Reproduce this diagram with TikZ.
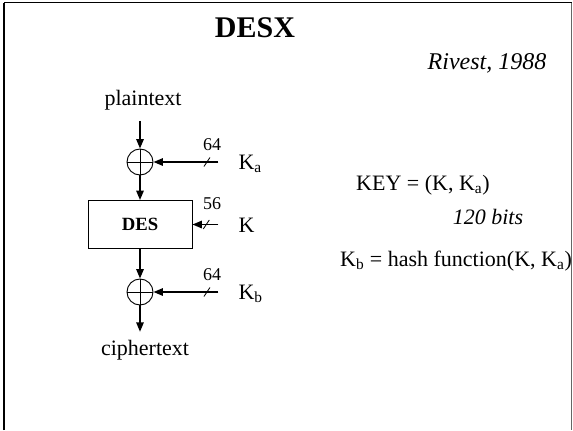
\documentclass[tikz,border=0pt]{standalone}
\usepackage{fontspec}
\setmainfont{Liberation Serif}
\usepackage{tikz}
\usetikzlibrary{arrows.meta,positioning,calc}

\begin{document}
\begin{tikzpicture}[x=0.75pt,y=-0.75pt,
  txt/.style={inner sep=1pt, font=\fontsize{16.5}{18}\selectfont},
  bits/.style={inner sep=1pt, font=\fontsize{13.5}{15}\selectfont},
  xorop/.style={draw, circle, line width=0.7pt, minimum size=19.5pt, inner sep=0pt},
  cipherbox/.style={draw, line width=0.7pt, minimum width=78pt, minimum height=36pt, font=\fontsize{14}{16}\selectfont\bfseries},
  arr/.style={-{Triangle[length=7pt,width=5.5pt]}, line width=1.2pt},
  tick/.style={line width=0.6pt}
]
  \useasboundingbox (0,0) rectangle (573,430);
  % slide frame
  \draw[line width=1.5pt] (4,430) -- (4,2.5);
  \draw[line width=0.8pt] (4,2.5) -- (571.5,2.5);
  \draw[line width=0.8pt, black!60] (571.5,2.5) -- (571.5,430);

  \node[font=\fontsize{22.5}{24}\selectfont\bfseries] (title) at (255,28) {DESX};
  \node[font=\fontsize{18}{20}\selectfont\itshape] (rivest) at (487,63) {Rivest, 1988};

  % the chain
  \node[txt] (plain) at (143,100) {plaintext};
  \node[xorop] (xora) at (140,162) {};
  \node[cipherbox] (des) at (140,224.5) {DES};
  \node[xorop] (xorb) at (140,292) {};
  \node[txt] (cipher) at (145,350) {ciphertext};
  \draw[line width=0.7pt] (xora.north) -- (xora.south) (xora.west) -- (xora.east);
  \draw[line width=0.7pt] (xorb.north) -- (xorb.south) (xorb.west) -- (xorb.east);

  % keys
  \node[txt, anchor=west] (ka) at (237,164) {K\textsubscript{a}};
  \node[txt, anchor=west] (k) at (237,225) {K};
  \node[txt, anchor=west] (kb) at (237,294) {K\textsubscript{b}};
  \node[bits] (na) at (212,145) {64};
  \node[bits] (nk) at (212,204) {56};
  \node[bits] (nb) at (212,275) {64};

  \draw[arr, shorten <=7pt] (xora |- plain.south) -- (xora);
  \draw[arr] (xora) -- (des);
  \draw[arr] (des) -- (xorb);
  \draw[arr, shorten >=5pt] (xorb) -- (xorb |- cipher.north);
  \draw[arr, shorten <=14pt] (ka.west |- xora) -- (xora.east) coordinate[pos=0.36] (ta);
  \draw[arr, shorten <=14pt] (k.west |- des) -- (des.east) coordinate[pos=0.69] (tk);
  \draw[arr, shorten <=14pt] (kb.west |- xorb) -- (xorb.east) coordinate[pos=0.36] (tb);
  \draw[tick] ($(ta)+(-3,4.5)$) -- ($(ta)+(3,-4.5)$);
  \draw[tick] ($(tk)+(-3,4.5)$) -- ($(tk)+(3,-4.5)$);
  \draw[tick] ($(tb)+(-3,4.5)$) -- ($(tb)+(3,-4.5)$);

  % key notes
  \node[txt] (key) at (423,185) {KEY = (K, K\textsubscript{a})};
  \node[txt, font=\fontsize{16.5}{18}\selectfont\itshape] (len) at (488,217) {120 bits};
  \node[txt] (hash) at (456,261) {K\textsubscript{b} = hash function(K, K\textsubscript{a})};
\end{tikzpicture}
\end{document}
